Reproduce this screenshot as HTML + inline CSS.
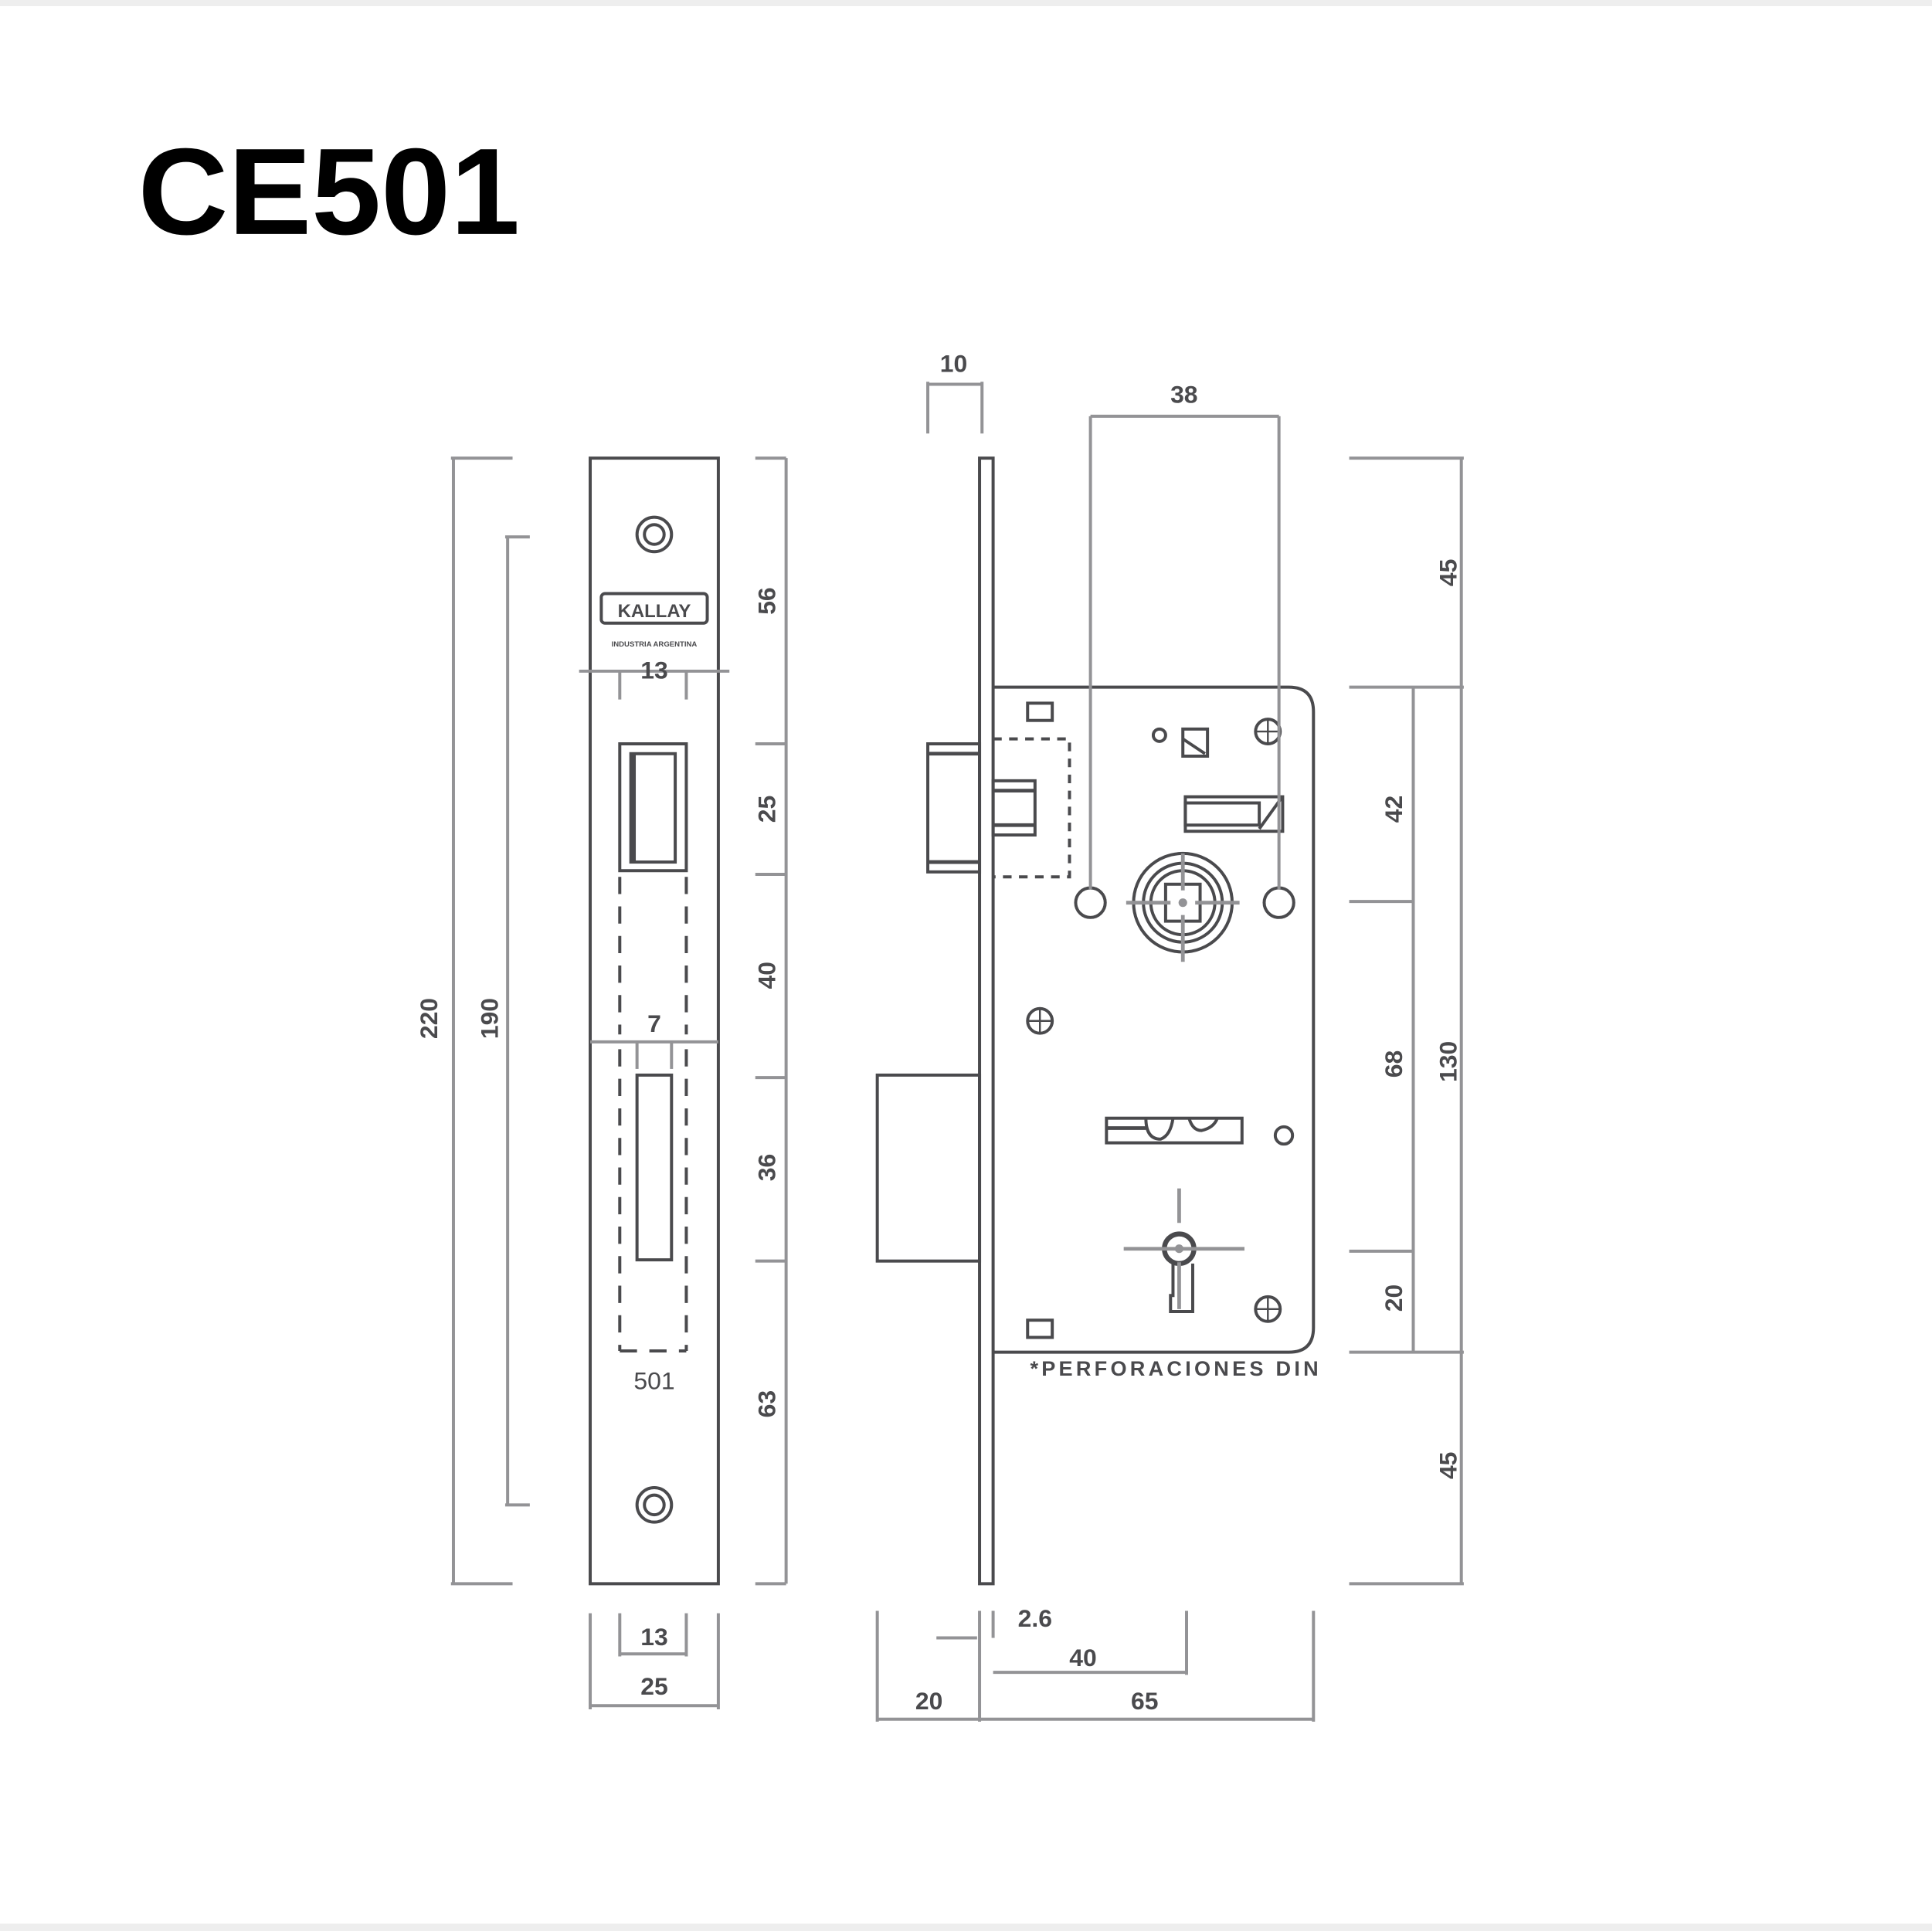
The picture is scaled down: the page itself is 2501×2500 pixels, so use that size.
<!DOCTYPE html>
<html><head><meta charset="utf-8"><style>
html,body{margin:0;padding:0;background:#fff;}
svg{display:block;}
text{font-family:"Liberation Sans",sans-serif;font-weight:bold;fill:#4a4a4d;}
</style></head><body>
<svg width="2501" height="2500" viewBox="0 0 1568 1568" preserveAspectRatio="none" xmlns="http://www.w3.org/2000/svg">
<rect x="0" y="0" width="1568" height="5" fill="#eeeeee"/>
<rect x="0" y="1562" width="1568" height="6" fill="#eeeeee"/>
<text x="112" y="190" font-size="100" textLength="310" lengthAdjust="spacingAndGlyphs" style="fill:#000">CE501</text>

<!-- LEFT faceplate -->
<g fill="none" stroke="#4a4a4d" stroke-width="2.5">
<rect x="479" y="372" width="104" height="914"/>
<circle cx="531" cy="434" r="14"/><circle cx="531" cy="434" r="8"/>
<circle cx="531" cy="1222" r="14"/><circle cx="531" cy="1222" r="8"/>
<rect x="488" y="482" width="86" height="24" rx="3"/>
<rect x="503" y="604" width="54" height="103"/>
<rect x="512" y="612" width="36" height="88"/>
<line x1="514" y1="612" x2="514" y2="700" stroke-width="4"/>
<rect x="517" y="873" width="28" height="150"/>
</g>
<text x="531" y="501" font-size="15" text-anchor="middle">KALLAY</text>
<text x="531" y="525" font-size="6" text-anchor="middle">INDUSTRIA ARGENTINA</text>
<g stroke="#4a4a4d" stroke-width="2.5" stroke-dasharray="14,10" fill="none">
<line x1="503" y1="712" x2="503" y2="840"/><line x1="557" y1="712" x2="557" y2="840"/>
<line x1="503" y1="852" x2="503" y2="1097"/><line x1="557" y1="852" x2="557" y2="1097"/>
<line x1="503" y1="1097" x2="557" y2="1097"/>
</g>
<text x="531" y="1128" font-size="20" text-anchor="middle" style="font-weight:normal">501</text>
<g stroke="#939396" stroke-width="2.5" fill="none">
<line x1="470" y1="545" x2="592" y2="545"/>
<line x1="503" y1="545" x2="503" y2="568"/><line x1="557" y1="545" x2="557" y2="568"/>
<line x1="479" y1="846" x2="583" y2="846"/>
<line x1="517" y1="846" x2="517" y2="868"/><line x1="545" y1="846" x2="545" y2="868"/>
<line x1="368" y1="372" x2="368" y2="1286"/>
<line x1="366" y1="372" x2="416" y2="372"/><line x1="366" y1="1286" x2="416" y2="1286"/>
<line x1="412" y1="436" x2="412" y2="1222"/>
<line x1="410" y1="436" x2="430" y2="436"/><line x1="410" y1="1222" x2="430" y2="1222"/>
<line x1="638" y1="372" x2="638" y2="1286"/>
<line x1="613" y1="372" x2="638" y2="372"/><line x1="613" y1="604" x2="638" y2="604"/>
<line x1="613" y1="710" x2="638" y2="710"/><line x1="613" y1="875" x2="638" y2="875"/>
<line x1="613" y1="1024" x2="638" y2="1024"/><line x1="613" y1="1286" x2="638" y2="1286"/>
<line x1="503" y1="1310" x2="503" y2="1345"/><line x1="557" y1="1310" x2="557" y2="1345"/>
<line x1="503" y1="1343" x2="557" y2="1343"/>
<line x1="479" y1="1310" x2="479" y2="1388"/><line x1="583" y1="1310" x2="583" y2="1388"/>
<line x1="479" y1="1385" x2="583" y2="1385"/>
</g>
<text x="531" y="551" font-size="20" text-anchor="middle">13</text>
<text x="531" y="838" font-size="20" text-anchor="middle">7</text>
<text x="531" y="1336" font-size="20" text-anchor="middle">13</text>
<text x="531" y="1376" font-size="20" text-anchor="middle">25</text>
<g font-size="20" text-anchor="middle">
<text transform="translate(355,827) rotate(-90)">220</text>
<text transform="translate(404,827) rotate(-90)">190</text>
<text transform="translate(629,488) rotate(-90)">56</text>
<text transform="translate(629,657) rotate(-90)">25</text>
<text transform="translate(629,792) rotate(-90)">40</text>
<text transform="translate(629,948) rotate(-90)">36</text>
<text transform="translate(629,1140) rotate(-90)">63</text>
<text transform="translate(1182,465) rotate(-90)">45</text>
<text transform="translate(1182,862) rotate(-90)">130</text>
<text transform="translate(1182,1190) rotate(-90)">45</text>
<text transform="translate(1138,657) rotate(-90)">42</text>
<text transform="translate(1138,864) rotate(-90)">68</text>
<text transform="translate(1138,1054) rotate(-90)">20</text>
</g>

<!-- RIGHT side view -->
<g fill="none" stroke="#4a4a4d" stroke-width="2.5">
<rect x="795" y="372" width="11" height="914"/>
<path d="M806 558 H1046 Q1066 558 1066 578 V1078 Q1066 1098 1046 1098 H806"/>
<rect x="753" y="604" width="42" height="104"/>
<line x1="753" y1="612" x2="795" y2="612" stroke-width="3"/><line x1="753" y1="700" x2="795" y2="700" stroke-width="3"/>
<rect x="712" y="873" width="83" height="151"/>
<rect x="806" y="634" width="34" height="44"/>
<line x1="806" y1="642" x2="840" y2="642" stroke-width="3"/><line x1="806" y1="670" x2="840" y2="670" stroke-width="3"/>
<rect x="834" y="571" width="20" height="14"/>
<rect x="834" y="1072" width="20" height="14"/>
<circle cx="941" cy="597" r="5"/>
<rect x="960" y="592" width="20" height="22"/><line x1="960" y1="600" x2="978" y2="612"/>
<rect x="962" y="647" width="79" height="28"/><rect x="962" y="652" width="60" height="18"/>
<line x1="1022" y1="673" x2="1040" y2="648"/>
<circle cx="885" cy="733" r="12"/><circle cx="1038" cy="733" r="12"/>
<circle cx="960" cy="733" r="40"/><circle cx="960" cy="733" r="32"/><circle cx="960" cy="733" r="26"/>
<rect x="946" y="718" width="28" height="30"/>
<circle cx="1029" cy="594" r="10"/><circle cx="844" cy="829" r="10"/><circle cx="1029" cy="1063" r="10"/>
<rect x="898" y="908" width="110" height="20"/>
<line x1="898" y1="916" x2="930" y2="916" stroke-width="3"/>
<path d="M930 908 Q930 925 942 925 Q950 922 952 908"/>
<path d="M965 908 Q968 918 975 918 Q985 916 988 908"/>
<circle cx="1042" cy="922" r="7"/>
<circle cx="957" cy="1014" r="12" stroke-width="4"/>
<path d="M952 1024 V1052 L950 1052 V1065 H968 V1026"/>
</g>
<g stroke="#4a4a4d" stroke-width="2.5" stroke-dasharray="7,6" fill="none">
<path d="M806 600 H868 V712 H806"/>
</g>
<g stroke="#4a4a4d" stroke-width="1.5" fill="none">
<line x1="1019" y1="594" x2="1039" y2="594"/><line x1="1029" y1="584" x2="1029" y2="604"/>
<line x1="834" y1="829" x2="854" y2="829"/><line x1="844" y1="819" x2="844" y2="839"/>
<line x1="1019" y1="1063" x2="1039" y2="1063"/><line x1="1029" y1="1053" x2="1029" y2="1073"/>
</g>
<g stroke="#939396" stroke-width="3" fill="none">
<line x1="914" y1="733" x2="950" y2="733"/><line x1="970" y1="733" x2="1006" y2="733"/>
<line x1="960" y1="693" x2="960" y2="723"/><line x1="960" y1="743" x2="960" y2="781"/>
<line x1="912" y1="1014" x2="1010" y2="1014"/><line x1="957" y1="993" x2="957" y2="965"/>
<line x1="957" y1="1025" x2="957" y2="1063"/>
</g>
<circle cx="960" cy="733" r="3.5" fill="#939396"/>
<circle cx="957" cy="1014" r="3.5" fill="#939396"/>
<g stroke="#939396" stroke-width="2.5" fill="none">
<line x1="753" y1="310" x2="753" y2="352"/><line x1="797" y1="310" x2="797" y2="352"/>
<line x1="753" y1="312" x2="797" y2="312"/>
<line x1="885" y1="338" x2="1038" y2="338"/>
<line x1="885" y1="338" x2="885" y2="722"/><line x1="1038" y1="338" x2="1038" y2="722"/>
<line x1="1095" y1="372" x2="1188" y2="372"/><line x1="1095" y1="558" x2="1188" y2="558"/>
<line x1="1095" y1="1098" x2="1188" y2="1098"/><line x1="1095" y1="1286" x2="1188" y2="1286"/>
<line x1="1186" y1="372" x2="1186" y2="1286"/>
<line x1="1095" y1="732" x2="1147" y2="732"/><line x1="1095" y1="1016" x2="1147" y2="1016"/>
<line x1="1147" y1="558" x2="1147" y2="1098"/>
<line x1="712" y1="1308" x2="712" y2="1398"/><line x1="795" y1="1308" x2="795" y2="1398"/>
<line x1="806" y1="1308" x2="806" y2="1330"/><line x1="963" y1="1308" x2="963" y2="1360"/>
<line x1="1066" y1="1308" x2="1066" y2="1398"/>
<line x1="760" y1="1330" x2="793" y2="1330"/>
<line x1="806" y1="1358" x2="963" y2="1358"/>
<line x1="712" y1="1396" x2="1066" y2="1396"/>
</g>
<text x="774" y="302" font-size="20" text-anchor="middle">10</text>
<text x="961" y="327" font-size="20" text-anchor="middle">38</text>
<text x="840" y="1321" font-size="20" text-anchor="middle">2.6</text>
<text x="879" y="1353" font-size="20" text-anchor="middle">40</text>
<text x="754" y="1388" font-size="20" text-anchor="middle">20</text>
<text x="929" y="1388" font-size="20" text-anchor="middle">65</text>
<text x="836" y="1117" font-size="17" textLength="234" lengthAdjust="spacing">*PERFORACIONES DIN</text>
</svg>
</body></html>
